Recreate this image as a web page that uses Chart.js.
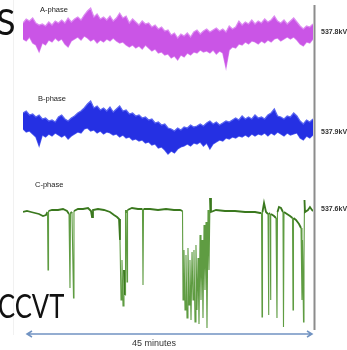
<!DOCTYPE html>
<html>
<head>
<meta charset="utf-8">
<script src="https://cdn.jsdelivr.net/npm/chart.js@4.4.1/dist/chart.umd.min.js"></script>
<style>
  body { margin: 0; background: #fff; }
  #wrap { position: relative; width: 347px; height: 350px; overflow: hidden; background: #fff; }
  #wrap canvas { position: absolute; left: 0; top: 0; }
  .t { position: absolute; white-space: nowrap; line-height: 1; }
  .big { font-family: Lato, "Open Sans", sans-serif; color: #111; transform-origin: left top; }
  .phase { font-family: "Liberation Sans", Arial, sans-serif; font-size: 7.5px; color: #222; }
  .kv { font-family: "Liberation Sans", Arial, sans-serif; font-size: 7px; font-weight: bold; color: #333; }
  .edge { position: absolute; left: 13px; top: 0; width: 1px; height: 335px; background: #f1f1f1; }
</style>
</head>
<body>
<div id="wrap">
  <div class="edge"></div>
  <canvas id="myChart" width="347" height="350"></canvas>
  <div class="t big" style="left:-4px; top:3px; font-size:36px;">S</div>
  <div class="t big" style="left:-2px; top:290px; font-size:32px; transform:scaleX(0.8);">CCVT</div>
  <div class="t phase" style="left:40px; top:6px;">A-phase</div>
  <div class="t phase" style="left:38px; top:95px;">B-phase</div>
  <div class="t phase" style="left:35px; top:181px;">C-phase</div>
  <div class="t kv" style="left:321px; top:28px;">537.8kV</div>
  <div class="t kv" style="left:321px; top:128px;">537.9kV</div>
  <div class="t kv" style="left:321px; top:205px;">537.6kV</div>
  <div class="t phase" style="left:132px; top:339px; font-size:9px; color:#333;">45 minutes</div>
</div>
<script>
// sample times (minutes) for the A and B phase envelopes
const abMinutes = [0,0.5,1,1.5,2,2.5,3,3.5,4,4.5,5,5.5,6,6.5,7,7.5,8,8.5,9,9.5,
  10,10.5,11,11.5,12,12.5,13,13.5,14,14.5,15,15.5,16,16.5,17,17.5,18,18.5,19,19.5,
  20,20.5,21,21.5,22,22.5,23,23.5,24,24.5,25,25.5,26,26.5,27,27.5,28,28.5,29,29.5,
  30,30.5,31,31.5,32,32.5,33,33.5,34,34.5,35,35.5,36,36.5,37,37.5,38,38.5,39,39.5,
  40,40.5,41,41.5,42,42.5,43,43.5,44,44.5,45];

// A-phase, max / min of the noisy trace (relative units around 537.8kV)
const aHigh = [9,13,11,14,9,7,8,6,10,7,11,9,12,9,14,10,13,15,12,17,
  21,24,15,18,13,15,12,16,11,14,19,14,16,9,13,10,7,11,8,9,
  5,7,3,5,1,2,-3,-1,-6,-2,-4,-1,-5,0,2,-2,1,3,0,2,
  4,1,3,0,6,3,5,11,7,10,8,12,8,11,9,13,10,12,16,11,
  9,12,8,11,14,10,6,3,6,5,8];
const aLow = [-7,-9,-5,-11,-13,-20,-11,-13,-8,-10,-6,-9,-7,-12,-15,-9,-7,-5,-8,-4,
  -6,-9,-7,-11,-8,-10,-7,-9,-6,-9,-11,-10,-13,-15,-13,-16,-14,-17,-13,-16,
  -19,-17,-21,-20,-23,-22,-26,-24,-28,-23,-25,-21,-23,-20,-21,-18,-20,-19,-21,-18,
  -22,-19,-21,-36,-18,-15,-16,-12,-13,-10,-12,-9,-10,-12,-9,-11,-8,-10,-7,-6,
  -9,-7,-5,-7,-5,-8,-12,-14,-10,-11,-7];

// B-phase, max / min (relative units around 537.9kV)
const bHigh = [12,14,10,11,8,10,6,7,4,5,3,8,10,6,4,7,9,12,14,17,
  21,24,17,19,15,17,14,18,13,16,19,14,15,11,12,9,10,7,8,5,
  6,2,3,0,1,-3,-4,-6,-3,-5,-2,-3,0,-2,-1,1,-1,2,4,1,
  3,0,2,4,3,5,7,5,9,6,8,6,10,7,8,6,10,12,16,9,
  8,6,9,8,12,9,4,1,5,3,6];
const bLow = [-4,-7,-6,-9,-12,-21,-10,-12,-9,-11,-8,-10,-12,-10,-14,-11,-9,-7,-8,-4,
  -3,-6,-5,-8,-6,-9,-7,-8,-10,-9,-12,-10,-13,-12,-15,-14,-16,-15,-18,-17,
  -20,-19,-23,-22,-25,-29,-26,-28,-24,-22,-21,-19,-21,-18,-19,-17,-21,-18,-24,-19,
  -17,-15,-16,-13,-14,-12,-13,-11,-12,-10,-12,-9,-11,-9,-10,-8,-11,-8,-10,-7,
  -9,-11,-8,-10,-9,-8,-13,-15,-11,-13,-10];

// C-phase trace with the voltage drops (relative units around 537.6kV)
const cMinutes = [0,0.62,1.24,1.86,2.48,3.10,3.57,3.80,3.88,3.96,4.50,5.43,6.21,6.83,7.14,7.29,7.37,7.60,7.84,7.91,
  8.53,9.31,10.09,10.55,10.71,10.86,11.64,12.57,13.50,14.12,14.59,14.90,15.05,15.21,15.36,15.52,15.67,15.83,15.91,15.98,
  16.14,16.22,16.91,17.84,18.54,18.62,18.70,19.71,20.95,22.19,23.43,24.36,24.75,24.83,24.98,25.14,25.29,25.45,25.60,25.76,
  25.91,26.07,26.23,26.38,26.53,26.69,26.84,27.00,27.16,27.31,27.47,27.62,27.78,27.93,28.09,28.24,28.40,28.55,28.71,28.86,
  29.02,29.17,29.95,31.34,32.90,34.45,36.00,36.78,37.01,37.09,37.16,37.40,37.71,38.02,38.09,38.17,38.33,38.40,38.48,38.95,
  39.26,39.41,39.49,39.72,40.03,40.34,40.42,40.50,40.96,41.43,41.82,41.90,41.97,42.36,42.83,43.14,43.29,43.37,43.53,43.60,
  43.68,43.76,44.22,44.53,44.84,45.00];
const cLevel = [-1,0,-1,-2,-3,-5,-4,-1,-59,0,1,1,2,0,-3,-77,-2,-1,-87,0,
  2,2,3,0,-6,1,2,1,-1,-4,-6,-8,-29,-89,-49,-95,-59,-84,-1,1,
  -71,1,3,2,2,-74,2,2,1,2,1,1,0,-89,-39,-99,-44,-107,-37,-94,
  -49,-109,-41,-89,-39,-111,-34,-99,-47,-113,-24,-89,-29,-107,-14,-79,-11,-117,1,-59,
  13,-1,1,0,0,-1,-1,-2,-2,-106,-1,8,-1,-3,-104,-2,-3,-89,-3,-5,
  -7,-107,-1,4,3,-1,-116,-1,-3,-5,-7,-99,-7,-9,-13,-17,-89,-29,-111,-49,
  11,-1,1,4,1,0];

function pts(xs, ys) {
  return xs.map((x, i) => ({ x: x, y: ys[i] }));
}

const frame = {
  id: 'frame',
  afterDatasetsDraw(chart) {
    const { ctx, chartArea, scales } = chart;
    const x0 = scales.x.getPixelForValue(0);
    const x1 = scales.x.getPixelForValue(45);
    ctx.save();
    ctx.strokeStyle = '#8c8c8c';
    ctx.lineWidth = 2;
    ctx.beginPath();
    ctx.moveTo(x1 + 1.5, chartArea.top);
    ctx.lineTo(x1 + 1.5, chartArea.bottom);
    ctx.stroke();
    // 45 minute span arrow
    const y = chartArea.bottom + 4;
    ctx.strokeStyle = '#7193c2';
    ctx.lineWidth = 1.5;
    ctx.beginPath();
    ctx.moveTo(x0 + 4, y);
    ctx.lineTo(x1 - 1, y);
    ctx.moveTo(x0 + 9, y - 3);
    ctx.lineTo(x0 + 4, y);
    ctx.lineTo(x0 + 9, y + 3);
    ctx.moveTo(x1 - 6, y - 3);
    ctx.lineTo(x1 - 1, y);
    ctx.lineTo(x1 - 6, y + 3);
    ctx.stroke();
    ctx.restore();
  }
};

// steep drops are thinner and lighter green, the baseline darker and thicker
function isDrop(ctx) {
  return Math.abs(ctx.p1.parsed.y - ctx.p0.parsed.y) > 30;
}

new Chart(document.getElementById('myChart'), {
  type: 'line',
  data: {
    datasets: [
      { data: pts(abMinutes, aHigh), yAxisID: 'yA', borderColor: '#dc8cf1', backgroundColor: '#ca55e6', borderWidth: 1.2, fill: '+1' },
      { data: pts(abMinutes, aLow), yAxisID: 'yA', borderColor: '#dc8cf1', borderWidth: 1.2, fill: false },
      { data: pts(abMinutes, bHigh), yAxisID: 'yB', borderColor: '#5864f0', backgroundColor: '#2530e3', borderWidth: 1.2, fill: '+1' },
      { data: pts(abMinutes, bLow), yAxisID: 'yB', borderColor: '#5864f0', borderWidth: 1.2, fill: false },
      { data: pts(cMinutes, cLevel), yAxisID: 'yC', borderColor: '#3c7a20', borderWidth: 1.6, fill: false,
        segment: {
          borderColor: ctx => isDrop(ctx) ? '#5f9c42' : '#3a781e',
          borderWidth: ctx => isDrop(ctx) ? 1.1 : 1.8
        } }
    ]
  },
  options: {
    responsive: false,
    animation: false,
    devicePixelRatio: 1,
    layout: { padding: { left: 23, right: 34, top: 5, bottom: 20 } },
    elements: { point: { radius: 0 }, line: { tension: 0 } },
    plugins: { legend: { display: false }, tooltip: { enabled: false } },
    scales: {
      x: { type: 'linear', min: 0, max: 45, display: false },
      yA: { position: 'left', stack: 'phase', stackWeight: 90, weight: 3, min: -63, max: 27, display: false },
      yB: { position: 'left', stack: 'phase', stackWeight: 85, weight: 2, min: -55, max: 30, display: false },
      yC: { position: 'left', stack: 'phase', stackWeight: 150, weight: 1, min: -119, max: 31, display: false }
    }
  },
  plugins: [frame]
});
</script>
</body>
</html>
